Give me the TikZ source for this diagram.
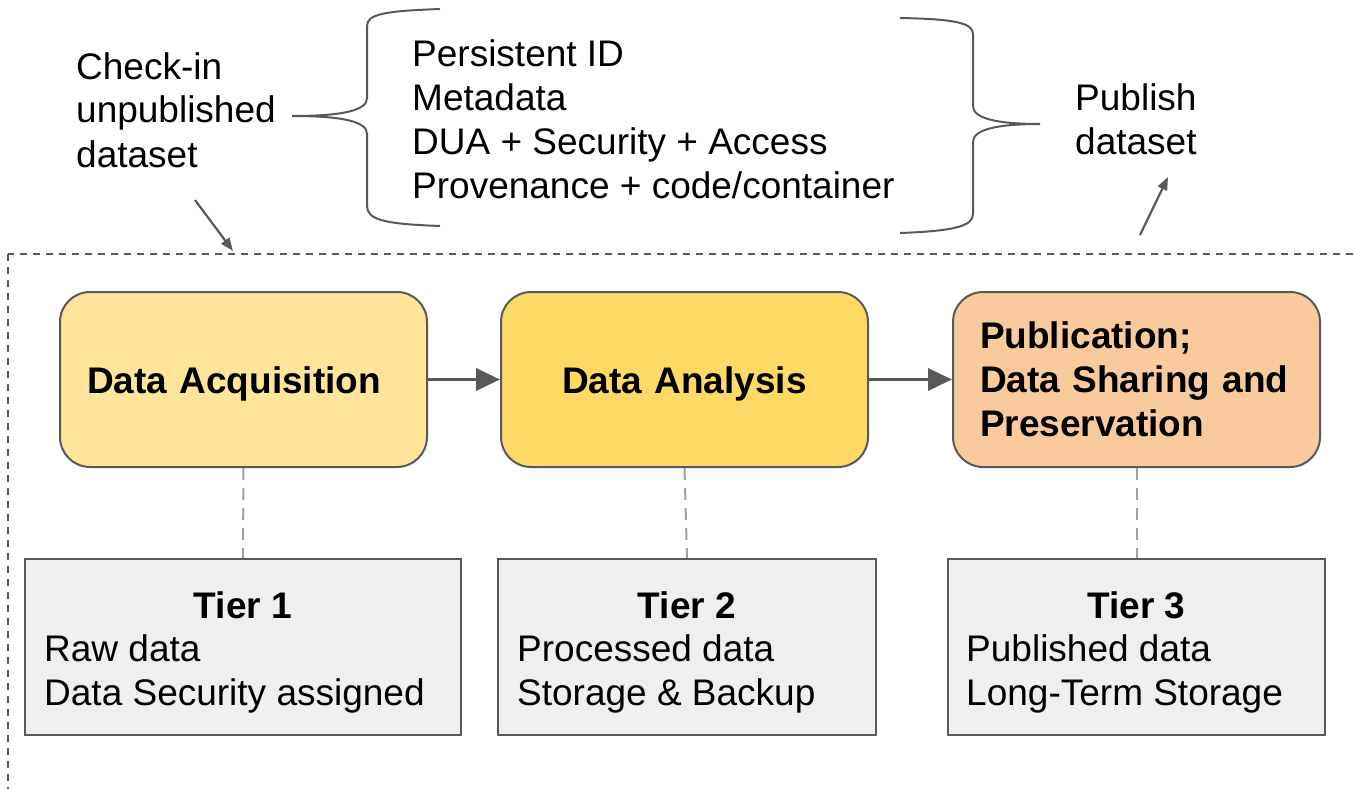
\documentclass[tikz,border=0pt]{standalone}
\usepackage{fontspec}
\setmainfont{Liberation Sans}
\usetikzlibrary{arrows.meta,calc}
\definecolor{edge}{HTML}{595959}
\definecolor{acqfill}{HTML}{FFE599}
\definecolor{anafill}{HTML}{FFD966}
\definecolor{pubfill}{HTML}{F9CB9C}
\definecolor{tierfill}{HTML}{EFEFEF}
\definecolor{linkgray}{HTML}{A0A0A0}
\tikzset{
  txt/.style={font=\fontsize{37}{44}\selectfont, inner sep=0pt},
  stage/.style={draw=edge, line width=2pt, rounded corners=30pt,
    minimum width=367pt, minimum height=175pt, text width=313pt,
    inner xsep=27pt, inner ysep=0pt, font=\fontsize{37}{44}\selectfont\bfseries},
  tierbox/.style={draw=edge, line width=2pt, fill=tierfill,
    minimum height=176pt, inner sep=0pt},
  flow/.style={draw=edge, line width=3.5pt, -{Triangle[length=24pt,width=22pt]}},
  small/.style={draw=edge, line width=2.2pt, -{Triangle[length=13pt,width=10pt]}},
  link/.style={draw=linkgray, line width=2pt, dash pattern=on 12pt off 8pt},
  frame/.style={draw=edge, line width=2pt, dash pattern=on 7pt off 6pt},
  bracepath/.style={draw=edge, line width=2pt},
}
\begin{document}
\begin{tikzpicture}[x=1pt,y=-1pt]
\useasboundingbox (0,0) rectangle (1354,789);
\clip (0,0) rectangle (1354,789);

% dashed frame
\draw[frame] (8,254) rectangle (1420,860);

% texts at top (base anchor = baseline of the last line)
\node[txt, anchor=base west, align=left] (checkin) at (76,167) {Check-in\\unpublished\\dataset};
\node[txt, anchor=base west, align=left] (items) at (412,198) {Persistent ID\\Metadata\\DUA + Security + Access\\Provenance + code/container};
\node[txt, anchor=base west, align=left] (publish) at (1075,154) {Publish\\dataset};

% braces
\coordinate (lbtop) at (440,9);
\coordinate (lbtip) at (292,116);
\coordinate (lbbot) at (440,226);
\draw[bracepath] (lbtop) .. controls (385,11) and (367,14) .. (367,26)
  -- (367,98) .. controls (367,110) and (345,116) .. (lbtip)
  .. controls (345,116) and (367,122) .. (367,134)
  -- (367,206) .. controls (367,220) and (385,224) .. (lbbot);
\coordinate (rbtop) at (900,18);
\coordinate (rbtip) at (1040,124);
\coordinate (rbbot) at (900,233);
\draw[bracepath] (rbtop) .. controls (955,19) and (973,23) .. (973,34)
  -- (973,106) .. controls (973,118) and (995,124) .. (rbtip)
  .. controls (995,124) and (973,130) .. (973,142)
  -- (973,214) .. controls (973,226) and (955,231) .. (rbbot);

% small arrows
\coordinate (inA) at (195,200);
\coordinate (inB) at (233,251);
\draw[small] (inA) -- (inB);
\coordinate (outA) at (1140,235);
\coordinate (outB) at (1168,177);
\draw[small] (outA) -- (outB);

% stage boxes
\node[stage, fill=acqfill, align=left] (acq) at (243.5,379.5) {\raisebox{-4pt}[27pt][8pt]{Data Acquisition}};
\node[stage, fill=anafill, align=center] (ana) at (684.5,379.5) {\raisebox{-4pt}[27pt][8pt]{Data Analysis}};
\node[stage, fill=pubfill, align=left] (pub) at (1136.5,379.5) {Publication;\\Data Sharing and\\Preservation};

\draw[flow] (acq.east) -- (ana.west);
\draw[flow] (ana.east) -- (pub.west);

% tier boxes
\node[tierbox, minimum width=436pt] (t1) at (243,647) {};
\node[tierbox, minimum width=378pt] (t2) at (687,647) {};
\node[tierbox, minimum width=377pt] (t3) at (1136.5,647) {};

\draw[link] (acq.south) -- (t1.north);
\draw[link] (ana.south) -- (t2.north);
\draw[link] (pub.south) -- (t3.north);

\node[txt, font=\fontsize{37}{44}\selectfont\bfseries, anchor=base] (t1h) at (243,618) {Tier 1};
\node[txt, anchor=base west, align=left] (t1b) at (44,705) {Raw data\\Data Security assigned};
\node[txt, font=\fontsize{37}{44}\selectfont\bfseries, anchor=base] (t2h) at (687,618) {Tier 2};
\node[txt, anchor=base west, align=left] (t2b) at (517,705) {Processed data\\Storage \& Backup};
\node[txt, font=\fontsize{37}{44}\selectfont\bfseries, anchor=base] (t3h) at (1136.5,618) {Tier 3};
\node[txt, anchor=base west, align=left] (t3b) at (966,705) {Published data\\Long-Term Storage};
\end{tikzpicture}
\end{document}
